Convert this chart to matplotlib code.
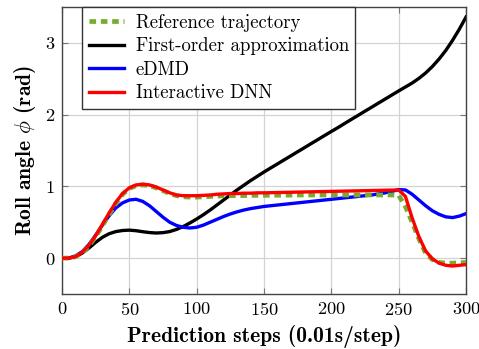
import numpy as np
import matplotlib.pyplot as plt

plt.rcParams['mathtext.fontset'] = 'cm'
plt.rcParams['axes.formatter.use_mathtext'] = True

# prediction steps, every 5 steps
steps = list(range(0, 305, 5))

reference = [0.00, 0.00, 0.02, 0.07, 0.17, 0.30, 0.45, 0.61, 0.76, 0.89,
             0.97, 1.01, 1.02, 1.01, 0.98, 0.94, 0.90, 0.87, 0.855, 0.85,
             0.85, 0.855, 0.86, 0.865, 0.87, 0.87, 0.87, 0.872, 0.874, 0.875,
             0.875, 0.876, 0.877, 0.878, 0.878, 0.879, 0.88, 0.88, 0.88, 0.88,
             0.88, 0.88, 0.88, 0.88, 0.88, 0.88, 0.88, 0.88, 0.88, 0.88,
             0.875, 0.72, 0.50, 0.27, 0.07, -0.02, -0.06, -0.07, -0.07, -0.065,
             -0.06]

first_order = [0.00, 0.00, 0.02, 0.07, 0.14, 0.22, 0.29, 0.34, 0.37, 0.385,
               0.39, 0.382, 0.368, 0.356, 0.35, 0.355, 0.37, 0.40, 0.44, 0.49,
               0.545, 0.605, 0.67, 0.74, 0.81, 0.88, 0.95, 1.015, 1.08, 1.14,
               1.20, 1.257, 1.313, 1.37, 1.426, 1.483, 1.539, 1.596, 1.652, 1.709,
               1.765, 1.82, 1.878, 1.935, 1.991, 2.048, 2.104, 2.161, 2.217, 2.274,
               2.33, 2.385, 2.44, 2.505, 2.58, 2.67, 2.775, 2.895, 3.035, 3.19,
               3.36]

edmd = [0.00, 0.00, 0.03, 0.09, 0.19, 0.32, 0.46, 0.59, 0.70, 0.77,
        0.81, 0.82, 0.79, 0.73, 0.65, 0.57, 0.50, 0.455, 0.43, 0.42,
        0.43, 0.46, 0.50, 0.54, 0.58, 0.615, 0.645, 0.67, 0.69, 0.705,
        0.72, 0.73, 0.74, 0.75, 0.76, 0.77, 0.78, 0.79, 0.80, 0.81,
        0.82, 0.83, 0.84, 0.85, 0.86, 0.87, 0.88, 0.895, 0.91, 0.93,
        0.955, 0.95, 0.89, 0.81, 0.73, 0.66, 0.61, 0.575, 0.565, 0.585,
        0.62]

dnn = [0.00, 0.00, 0.02, 0.08, 0.18, 0.31, 0.47, 0.63, 0.78, 0.90,
       0.98, 1.02, 1.03, 1.02, 0.99, 0.95, 0.91, 0.88, 0.87, 0.87,
       0.87, 0.875, 0.88, 0.89, 0.895, 0.90, 0.90, 0.905, 0.905, 0.91,
       0.91, 0.912, 0.914, 0.916, 0.918, 0.92, 0.922, 0.924, 0.926, 0.928,
       0.93, 0.932, 0.934, 0.936, 0.938, 0.94, 0.942, 0.944, 0.946, 0.948,
       0.95, 0.86, 0.56, 0.30, 0.10, -0.01, -0.07, -0.10, -0.11, -0.10,
       -0.09]

fig, ax = plt.subplots(figsize=(4.79, 3.49), dpi=100)
fig.subplots_adjust(left=0.1294, right=0.9729, bottom=0.1576, top=0.98)

ax.plot(steps, reference, color='#77AC30', lw=3.4, ls=(0, (1.4, 1.0)), label='Reference trajectory', zorder=3)
ax.plot(steps, first_order, color='black', lw=2.4, label='First-order approximation', zorder=2,
        solid_joinstyle='round')
ax.plot(steps, edmd, color='blue', lw=2.4, label='eDMD', zorder=2, solid_joinstyle='round')
ax.plot(steps, dnn, color='red', lw=2.4, label='Interactive DNN', zorder=4, solid_joinstyle='round')

ax.set_xlim(0, 300)
ax.set_ylim(-0.5, 3.5)
ax.set_xticks([0, 50, 100, 150, 200, 250, 300])
ax.set_yticks([0, 1, 2, 3])
ax.grid(True, color='#d3d3d3', lw=0.9)
ax.set_axisbelow(True)
ax.tick_params(direction='in', top=True, right=True, length=4, color='#777777', labelsize=13.2, pad=5)
for lbl in ax.get_xticklabels() + ax.get_yticklabels():
    lbl.set_fontfamily('cmr10')
for s in ax.spines.values():
    s.set_color('#444444')
    s.set_linewidth(1.0)

ax.set_xlabel('Prediction steps (0.01s/step)', fontfamily='cmb10', fontsize=15.5, labelpad=5)
ax.set_ylabel(r'Roll angle $\phi$ (rad)', fontfamily='cmb10', fontsize=15.5, labelpad=5)

leg = ax.legend(loc='upper left', bbox_to_anchor=(0.05, 1.0), prop={'family': 'cmr10', 'size': 13.5},
                fancybox=False, framealpha=1, edgecolor='#333333', borderpad=0.35,
                handlelength=1.9, handletextpad=0.6, labelspacing=0.3, borderaxespad=0)
leg.get_frame().set_linewidth(1.0)

fig.savefig('out.png', dpi=100)
